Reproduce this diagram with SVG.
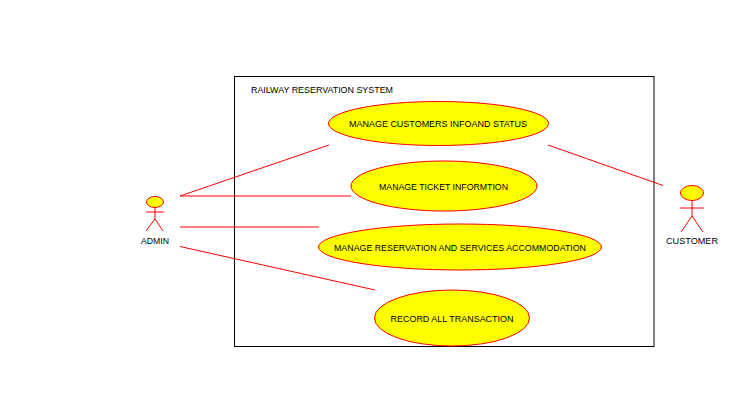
<svg xmlns="http://www.w3.org/2000/svg" width="750" height="402" viewBox="0 0 750 402">
<style>
text{font-family:"Liberation Sans",Arial,sans-serif;font-size:9.5px;fill:#000;text-anchor:middle}
.uc{fill:#ffff00;stroke:#ff0000;stroke-width:1}
.ln{fill:none;stroke:#ff0000;stroke-width:1}
.fl{stroke:#ff0000;stroke-width:1;shape-rendering:crispEdges}
</style>
<rect width="750" height="402" fill="#fff"/>
<g id="system">
<rect x="234.5" y="76.500" width="419.500" height="270" fill="#fff" stroke="#000" stroke-width="1"/>
<text x="322" y="93" textLength="142" lengthAdjust="spacingAndGlyphs">RAILWAY RESERVATION SYSTEM</text>
</g>
<g id="connectors">
<path class="ln" d="M180 196L329 145"/>
<path class="ln" d="M180 196H351"/>
<path class="ln" d="M180 227H319"/>
<path class="ln" d="M180 246.500L375 290"/>
<path class="ln" d="M548 145L663 185.500"/>
</g>
<g id="uc1"><ellipse class="uc" cx="438.500" cy="123.500" rx="110" ry="22"/><text x="438" y="127" textLength="178" lengthAdjust="spacingAndGlyphs">MANAGE CUSTOMERS INFOAND STATUS</text></g>
<g id="uc2"><ellipse class="uc" cx="444" cy="186" rx="93" ry="25"/><text x="443.500" y="190" textLength="129" lengthAdjust="spacingAndGlyphs">MANAGE TICKET INFORMTION</text></g>
<g id="uc3"><ellipse class="uc" cx="460" cy="247" rx="141.500" ry="23"/><text x="460" y="251" textLength="252" lengthAdjust="spacingAndGlyphs">MANAGE RESERVATION AND SERVICES ACCOMMODATION</text></g>
<g id="uc4"><ellipse class="uc" cx="452" cy="318" rx="77.500" ry="28"/><text x="452" y="322" textLength="123" lengthAdjust="spacingAndGlyphs">RECORD ALL TRANSACTION</text></g>
<g id="admin">
<ellipse class="uc" cx="155" cy="202" rx="8.500" ry="5.500"/>
<path class="ln" d="M155 208V219M146 212H164M155 219L146 231M155 219L163 231"/>
<text x="155" y="244" textLength="28" lengthAdjust="spacingAndGlyphs">ADMIN</text>
</g>
<g id="customer">
<ellipse class="uc" cx="692" cy="193" rx="11.500" ry="7.500"/>
<path class="ln" d="M692 201V216M680 208H704M692 216L681 232M692 216L703 232"/>
<text x="692" y="244" textLength="52" lengthAdjust="spacingAndGlyphs">CUSTOMER</text>
</g>
</svg>
